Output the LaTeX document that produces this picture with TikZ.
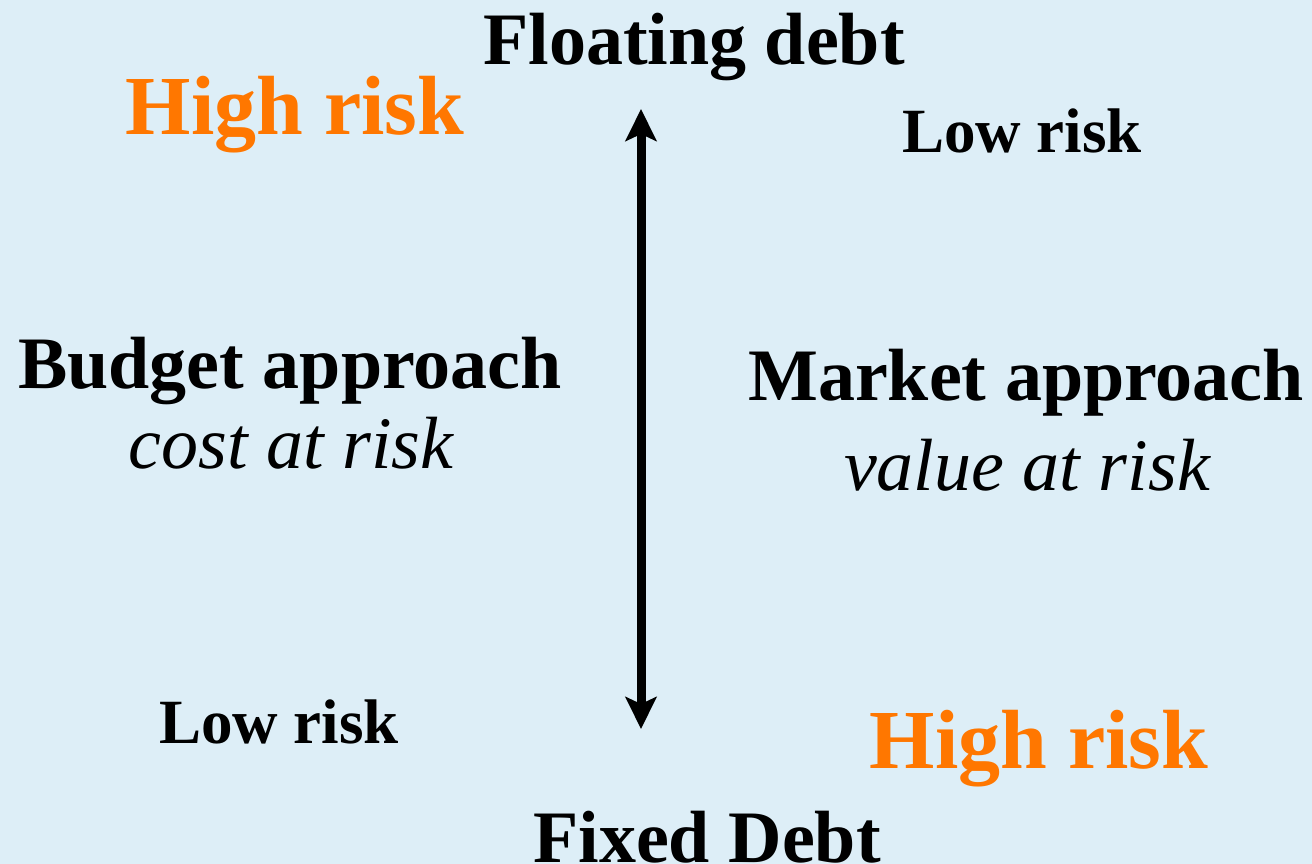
\documentclass[tikz,border=0pt]{standalone}
\usepackage{fontspec}
\setmainfont{Liberation Serif}
\usetikzlibrary{arrows.meta}
\definecolor{bgblue}{HTML}{DDEEF7}
\definecolor{riskorange}{HTML}{FF7700}
\begin{document}
\begin{tikzpicture}[x=1pt,y=-1pt,
  label/.style={anchor=base,inner sep=0pt,font=\fontsize{74}{80}\selectfont\bfseries},
  subtext/.style={anchor=base,inner sep=0pt,font=\fontsize{74}{80}\selectfont\itshape},
  highrisk/.style={anchor=base,inner sep=0pt,text=riskorange,font=\fontsize{84}{90}\selectfont\bfseries},
  lowrisk/.style={anchor=base,inner sep=0pt,font=\fontsize{63}{70}\selectfont\bfseries},
  axis/.style={line width=9pt,{Stealth[length=32pt,width=31pt,inset=7pt]}-{Stealth[length=32pt,width=31pt,inset=7pt]}}]
  \fill[bgblue] (0,0) rectangle (1312,864);
  \useasboundingbox (0,0) rectangle (1312,864);

  % axis labels
  \node[label] (floating) at (694,65) {Floating debt};
  \node[label] (fixed) at (707,862) {Fixed Debt};

  % vertical double arrow
  \coordinate (top) at (641,109);
  \coordinate (bottom) at (641,729);
  \draw[axis] (top) -- (bottom);

  % left side: budget approach
  \node[highrisk] (hrleft) at (295,135) {High risk};
  \node[label] (budget) at (290,388) {Budget approach};
  \node[subtext] (cost) at (291,468) {cost at risk};
  \node[lowrisk] (lrleft) at (279,743) {Low risk};

  % right side: market approach
  \node[lowrisk] (lrright) at (1022,153) {Low risk};
  \node[label] (market) at (1026,400) {Market approach};
  \node[subtext] (value) at (1027,490) {value at risk};
  \node[highrisk] (hrright) at (1039,768) {High risk};
\end{tikzpicture}
\end{document}
